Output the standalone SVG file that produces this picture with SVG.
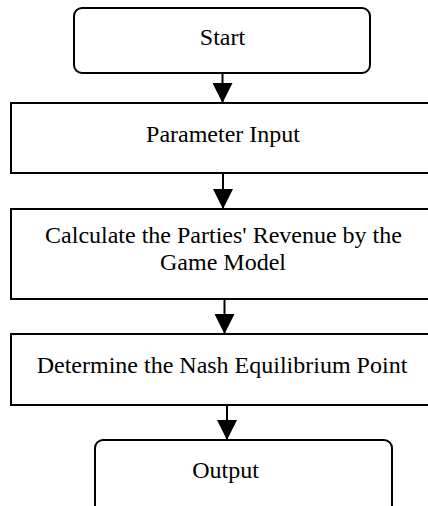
<svg xmlns="http://www.w3.org/2000/svg" width="428" height="506" viewBox="0 0 428 506">
  <style>
    .box { fill: #ffffff; stroke: #000000; stroke-width: 2; }
    .lbl { font-size: 24px; fill: #000000; text-anchor: middle; }
    .edge { stroke: #000000; stroke-width: 2; fill: none; marker-end: url(#arrow); }
  </style>
  <defs>
    <marker id="arrow" markerWidth="20" markerHeight="20" refX="20" refY="10" orient="auto" markerUnits="userSpaceOnUse">
      <path d="M0,0 L20,10 L0,20 Z" fill="#000000"/>
    </marker>
  </defs>
  <rect width="428" height="506" fill="#ffffff"/>

  <g id="connectors">
    <line class="edge" x1="222.5" y1="73" x2="222.5" y2="103"/>
    <line class="edge" x1="223" y1="173" x2="223" y2="209"/>
    <line class="edge" x1="224.5" y1="299" x2="224.5" y2="334"/>
    <line class="edge" x1="227" y1="405" x2="227" y2="440"/>
  </g>

  <g font-family="Liberation Serif, Times New Roman, serif">
    <g id="start">
      <rect class="box" x="74" y="8" width="296" height="65" rx="8"/>
      <text class="lbl" x="222.5" y="45">Start</text>
    </g>

    <g id="parameter-input">
      <rect class="box" x="11" y="103" width="426" height="70"/>
      <text class="lbl" x="223" y="142">Parameter Input</text>
    </g>

    <g id="calculate-revenue">
      <rect class="box" x="11" y="209" width="426" height="90"/>
      <text class="lbl" x="223.5" y="243">Calculate the Parties' Revenue by the</text>
      <text class="lbl" x="223" y="270">Game Model</text>
    </g>

    <g id="nash-equilibrium">
      <rect class="box" x="11" y="334" width="426" height="71"/>
      <text class="lbl" x="222" y="373">Determine the Nash Equilibrium Point</text>
    </g>

    <g id="output">
      <rect class="box" x="95" y="440" width="297" height="80" rx="8"/>
      <text class="lbl" x="225.5" y="478">Output</text>
    </g>
  </g>
</svg>
